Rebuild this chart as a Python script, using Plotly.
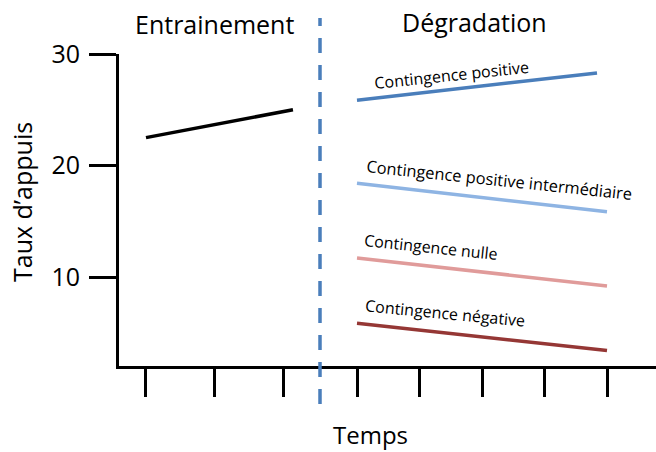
import plotly.graph_objects as go

# ---- data ----
train_time = [1.0, 3.13]
train_rate = [22.5, 25.0]

deg_time_pos = [1.0, 4.84]
deg_pos = [25.85, 28.3]
deg_time = [1.0, 5.0]
deg_inter = [18.4, 15.85]
deg_nulle = [11.7, 9.2]
deg_neg = [5.85, 3.4]

train_ticks = [1, 2, 3]
deg_ticks = [1, 2, 3, 4, 5]
y_ticks = [10, 20, 30]

FONT = "Open Sans"
L, T, B = 119, 54, 86
W, H = 656, 452
PW, PH = W - L, H - T - B


def px(x):
    return (x - L) / PW


def py(y):
    return (H - B - y) / PH


DIV = px(320)  # boundary between the two phases (paper x)

fig = go.Figure()
fig.add_trace(go.Scatter(x=train_time, y=train_rate, mode="lines",
                         line=dict(color="black", width=3.5), xaxis="x", yaxis="y"))
series = [
    (deg_time_pos, deg_pos, "#4a7ebb"),
    (deg_time, deg_inter, "#8eb4e3"),
    (deg_time, deg_nulle, "#e09b9a"),
    (deg_time, deg_neg, "#953735"),
]
for xs, ys, col in series:
    fig.add_trace(go.Scatter(x=xs, y=ys, mode="lines",
                             line=dict(color=col, width=3.5), xaxis="x2", yaxis="y"))

axis_common = dict(showline=True, linecolor="black", linewidth=3, showgrid=False,
                   zeroline=False, ticks="outside", ticklen=28, tickwidth=3,
                   tickcolor="black", showticklabels=False, fixedrange=True)

fig.update_layout(
    width=W, height=H,
    margin=dict(l=L, r=0, t=T, b=B, pad=0),
    paper_bgcolor="white", plot_bgcolor="white",
    showlegend=False,
    font=dict(family=FONT, color="black"),
    xaxis=dict(domain=[0, DIV], range=[0.609, 3.522], tickvals=train_ticks, anchor="y", **axis_common),
    xaxis2=dict(domain=[DIV, 1], range=[0.408, 5.784], tickvals=deg_ticks, anchor="y", **axis_common),
    yaxis=dict(range=[2.02, 30], tickvals=y_ticks, showline=True, linecolor="black",
               linewidth=3, showgrid=False, zeroline=False, ticks="outside", ticklen=27,
               tickwidth=3, tickcolor="black", tickfont=dict(size=25, family=FONT),
               ticklabelstandoff=4, fixedrange=True),
)

fig.add_shape(type="line", xref="paper", yref="paper", x0=DIV, x1=DIV, y0=py(404), y1=py(18),
              line=dict(color="#4a7ebb", width=3.5, dash="15px,12px"))

ann = [
    ("Entrainement", 214, 24, 0, 25),
    ("Dégradation", 474, 22, 0, 25),
    ("Temps", 370, 434, 0, 24),
    ("Taux d’appuis", 22, 202, -90, 25),
    ("Contingence positive", 451, 75, -6, 16),
    ("Contingence positive intermédiaire", 499, 179, 6, 16.4),
    ("Contingence nulle", 431, 247, 6, 16),
    ("Contingence négative", 445, 313, 5.5, 16),
]
for text, x, y, ang, sz in ann:
    fig.add_annotation(text=text, x=px(x), y=py(y), xref="paper", yref="paper", showarrow=False,
                       textangle=ang, xanchor="center", yanchor="middle",
                       font=dict(size=sz, family=FONT, color="black"))

fig.write_html("out.html", config={"displayModeBar": False, "staticPlot": True},
               post_script="document.body.style.margin='0';document.body.style.padding='0';")
